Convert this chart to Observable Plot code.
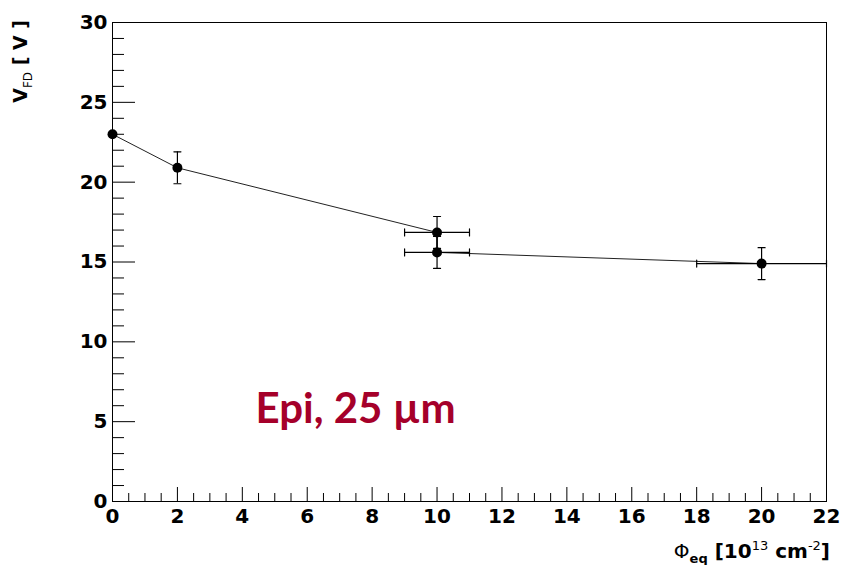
<!DOCTYPE html>
<html>
<head>
<meta charset="utf-8">
<script src="https://cdn.jsdelivr.net/npm/d3@7"></script>
<script src="https://cdn.jsdelivr.net/npm/@observablehq/plot@0.6"></script>
<style>
  body { margin: 0; background: #fff; }
  #chart svg { display: block; }
</style>
</head>
<body>
<div id="chart"></div>
<script>
// Full depletion voltage versus equivalent fluence
const fluence    = [0, 2, 10, 10, 20];        // 10^13 cm^-2
const vfd        = [23.0, 20.9, 16.85, 15.6, 14.9]; // V
const fluenceErr = [0, 0, 1, 1, 2];
const vfdErr     = [0, 1, 1, 1, 1];

// Axis ticks
const xMajorTicks = d3.range(0, 23, 2);
const xMinorTicks = d3.range(0, 22.01, 0.5).filter(v => v % 2 !== 0);
const yMajorTicks = d3.range(0, 31, 5);
const yMinorTicks = d3.range(0, 31, 1).filter(v => v % 5 !== 0);

const annotation = "Epi, 25 µm";

const points = fluence.map((x, i) => ({x, y: vfd[i], ex: fluenceErr[i], ey: vfdErr[i]}));
const withYErr = points.filter(d => d.ey > 0);
const withXErr = points.filter(d => d.ex > 0);

// straight line used for the error-bar end caps
const capShape = {draw(ctx, l) { ctx.moveTo(0, 0); ctx.lineTo(0, -l); }};
const capLen = 7;

const labelFont = {fontFamily: "DejaVu Sans", fontWeight: "bold", fontSize: 20};

const chart = Plot.plot({
  width: 842,
  height: 565,
  marginLeft: 112,
  marginRight: 16,
  marginTop: 22,
  marginBottom: 64,
  style: {background: "#fff", color: "#000", fontFamily: "DejaVu Sans"},
  x: {domain: [0, 22]},
  y: {domain: [0, 30]},
  marks: [
    // inward tick marks
    Plot.axisY({ticks: yMajorTicks, tickSize: -23, fill: "none", label: null}),
    Plot.axisY({ticks: yMinorTicks, tickSize: -12, fill: "none", label: null}),
    Plot.axisX({ticks: xMajorTicks, tickSize: -14, fill: "none", label: null}),
    Plot.axisX({ticks: xMinorTicks, tickSize: -8, fill: "none", label: null}),
    // tick labels
    Plot.axisY({ticks: yMajorTicks, tickSize: 0, tickPadding: 5, label: null, ...labelFont}),
    Plot.axisX({ticks: xMajorTicks, tickSize: 0, tickPadding: 7, label: null, ...labelFont}),
    Plot.frame({stroke: "#000", strokeWidth: 1}),

    // connecting line
    Plot.line(points, {x: "x", y: "y", stroke: "#222", strokeWidth: 1}),

    // vertical error bars + caps
    Plot.ruleX(withYErr, {x: "x", y1: d => d.y - d.ey, y2: d => d.y + d.ey, stroke: "#000", strokeWidth: 1.2}),
    Plot.vector(withYErr, {x: "x", y: d => d.y - d.ey, length: capLen, rotate: 90, anchor: "middle", shape: capShape, stroke: "#000", strokeWidth: 1.2}),
    Plot.vector(withYErr, {x: "x", y: d => d.y + d.ey, length: capLen, rotate: 90, anchor: "middle", shape: capShape, stroke: "#000", strokeWidth: 1.2}),

    // horizontal error bars + caps
    Plot.ruleY(withXErr, {y: "y", x1: d => d.x - d.ex, x2: d => d.x + d.ex, stroke: "#000", strokeWidth: 1.2}),
    Plot.vector(withXErr, {x: d => d.x - d.ex, y: "y", length: capLen, rotate: 0, anchor: "middle", shape: capShape, stroke: "#000", strokeWidth: 1.2}),
    Plot.vector(withXErr, {x: d => d.x + d.ex, y: "y", length: capLen, rotate: 0, anchor: "middle", shape: capShape, stroke: "#000", strokeWidth: 1.2}),

    // markers
    Plot.dot(points, {x: "x", y: "y", r: 5, fill: "#000", stroke: "none"}),

    // sample label
    Plot.text([annotation], {
      frameAnchor: "bottom-left", dx: 143, dy: -79,
      textAnchor: "start", lineAnchor: "bottom",
      fontFamily: "Lato", fontWeight: "bold", fontSize: 42, fill: "#a5002a"
    })
  ]
});

document.getElementById("chart").appendChild(chart);

// axis titles with sub/superscripts
const svg = d3.select(chart);

const yTitle = svg.append("text")
  .attr("transform", "translate(27,20) rotate(-90)")
  .attr("text-anchor", "end")
  .attr("font-family", "DejaVu Sans")
  .attr("font-size", 19)
  .attr("font-weight", "bold")
  .attr("fill", "#000");
yTitle.append("tspan").text("V");
yTitle.append("tspan").attr("dy", 5).attr("font-size", 12).attr("font-weight", "normal").text("FD");
yTitle.append("tspan").attr("dy", -5).text(" [ V ]");

const xTitle = svg.append("text")
  .attr("x", 830).attr("y", 558)
  .attr("text-anchor", "end")
  .attr("font-family", "DejaVu Sans")
  .attr("font-size", 20)
  .attr("font-weight", "bold")
  .attr("fill", "#000");
xTitle.append("tspan").attr("font-weight", "normal").text("Φ");
xTitle.append("tspan").attr("dy", 5).attr("font-size", 13).text("eq");
xTitle.append("tspan").attr("dy", -5).text(" [10");
xTitle.append("tspan").attr("dy", -8).attr("font-size", 13).attr("font-weight", "normal").text("13");
xTitle.append("tspan").attr("dy", 8).text(" cm");
xTitle.append("tspan").attr("dy", -8).attr("font-size", 13).attr("font-weight", "normal").text("-2");
xTitle.append("tspan").attr("dy", 8).text("]");
</script>
</body>
</html>
